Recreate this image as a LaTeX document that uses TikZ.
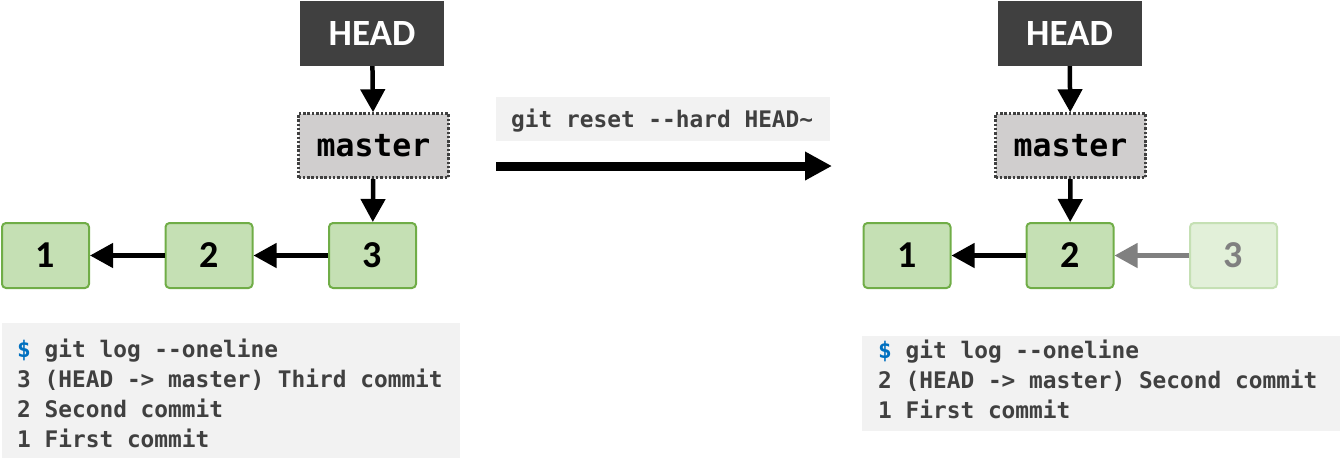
\documentclass[tikz,border=0pt]{standalone}
\usepackage{fontspec}
\setmainfont{Carlito}
\setmonofont{DejaVu Sans Mono}
\usetikzlibrary{arrows.meta}
\definecolor{headfill}{HTML}{404040}
\definecolor{masterfill}{HTML}{D0CECE}
\definecolor{cfill}{HTML}{C5E0B4}
\definecolor{cdraw}{HTML}{70AD47}
\definecolor{gfill}{HTML}{E2F0D9}
\definecolor{gdraw}{HTML}{C5E0B4}
\definecolor{logfill}{HTML}{F2F2F2}
\definecolor{logtext}{HTML}{404040}
\definecolor{dollar}{HTML}{0070C0}
\definecolor{fadetext}{HTML}{808080}
\tikzset{
  headbox/.style={fill=headfill, text=white, minimum width=144pt, minimum height=65pt, inner sep=0pt, font=\fontsize{37}{40}\selectfont\bfseries},
  masterbox/.style={fill=masterfill, draw=headfill, line width=2.5pt, dash pattern=on 2.5pt off 1.8pt, minimum width=150pt, minimum height=64pt, inner sep=0pt, font=\fontsize{31.5}{36}\selectfont\ttfamily\bfseries},
  commitbox/.style={fill=cfill, draw=cdraw, line width=2pt, rounded corners=4pt, minimum width=87pt, minimum height=65pt, inner sep=0pt, font=\fontsize{38}{40}\selectfont\bfseries},
  fadebox/.style={commitbox, fill=gfill, draw=gdraw, text=fadetext},
  bgbox/.style={fill=logfill, inner sep=0pt, anchor=north west},
  logline/.style={anchor=base west, inner sep=0pt, text=logtext, font=\fontsize{22.8}{30}\selectfont\ttfamily\bfseries},
  ptr/.style={line width=4.5pt, -{Triangle[length=23pt,width=24pt]}},
  fadeptr/.style={ptr, draw=fadetext, -{Triangle[length=23pt,width=24pt]}},
  bigarrow/.style={line width=9pt, -{Triangle[length=27pt,width=27pt]}}
}
\begin{document}
\begin{tikzpicture}[x=1pt,y=-1pt]
\useasboundingbox (0,0) rectangle (1340,467);
% left side
\node[headbox] (lhead) at (372,33.5) {HEAD};
\node[masterbox] (lmaster) at (373.5,145.5) {master};
\node[commitbox] (l1) at (45.5,255.5) {1};
\node[commitbox] (l2) at (209,255.5) {2};
\node[commitbox] (l3) at (372.5,255.5) {3};
\draw[ptr] (lhead) -- (lmaster);
\draw[ptr] (lmaster) -- (l3);
\draw[ptr] (l2) -- (l1);
\draw[ptr] (l3) -- (l2);
\node[bgbox, minimum width=458pt, minimum height=135pt] (llog) at (2,323) {};
\node[logline] (ll1) at (17,357) {\textcolor{dollar}{\$} git log --oneline};
\node[logline] (ll2) at (17,387) {3 (HEAD -> master) Third commit};
\node[logline] (ll3) at (17,417) {2 Second commit};
\node[logline] (ll4) at (17,447) {1 First commit};
% command
\node[bgbox, minimum width=334pt, minimum height=44pt] (cmdbg) at (496,97) {};
\node[logline] (cmd) at (511,127.5) {git reset --hard HEAD\char`\~};
\coordinate (ab) at (496,166);
\coordinate (ae) at (832,166);
\draw[bigarrow] (ab) -- (ae);
% right side
\node[headbox] (rhead) at (1069.5,33.5) {HEAD};
\node[masterbox] (rmaster) at (1070.5,145.5) {master};
\node[commitbox] (r1) at (907,255.5) {1};
\node[commitbox] (r2) at (1070,255.5) {2};
\node[fadebox] (r3) at (1233.5,255.5) {3};
\draw[ptr] (rhead) -- (rmaster);
\draw[ptr] (rmaster) -- (r2);
\draw[ptr] (r2) -- (r1);
\draw[fadeptr] (r3) -- (r2);
\node[bgbox, minimum width=478pt, minimum height=95pt] (rlog) at (862,336) {};
\node[logline] (rl1) at (878,358.5) {\textcolor{dollar}{\$} git log --oneline};
\node[logline] (rl2) at (878,388.5) {2 (HEAD -> master) Second commit};
\node[logline] (rl3) at (878,418) {1 First commit};
\end{tikzpicture}
\end{document}
